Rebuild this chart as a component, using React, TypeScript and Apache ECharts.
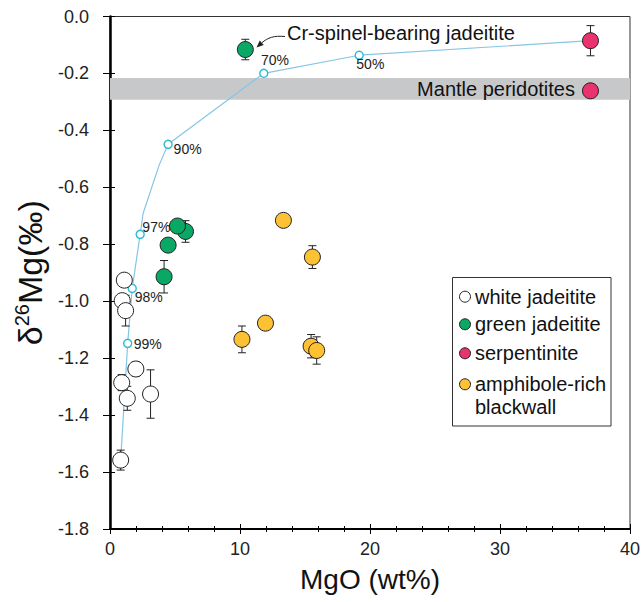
import React, { useEffect, useRef } from 'react';
import * as echarts from 'echarts';

// ---- data ----
const whiteX = [1.10, 0.94, 1.20, 1.99, 0.90, 1.33, 3.12, 0.82];
const whiteY = [-0.926, -0.998, -1.033, -1.238, -1.286, -1.341, -1.326, -1.558];
const whiteErr = [0, 0, 0.054, 0.025, 0.028, 0.042, 0.085, 0.035];

const greenX = [10.41, 5.81, 5.19, 4.47, 4.16];
const greenY = [-0.116, -0.755, -0.736, -0.803, -0.914];
const greenErr = [0.036, 0.038, 0, 0, 0.057];

const serpX = [36.96];
const serpY = [-0.085];
const serpErr = [0.053];

const mantleX = [36.96];
const mantleY = [-0.261];

const amphX = [13.34, 15.57, 10.15, 11.96, 15.47, 15.90];
const amphY = [-0.716, -0.845, -1.134, -1.077, -1.158, -1.173];
const amphErr = [0, 0.04, 0.047, 0, 0.041, 0.048];

const mixX = [0.82, 1.36, 1.71, 2.32, 2.55, 3.78, 4.47, 11.83, 19.17, 36.96];
const mixY = [-1.558, -1.148, -0.955, -0.765, -0.691, -0.522, -0.449, -0.1995, -0.136, -0.085];
const mixLabels = ['', '99%', '98%', '97%', '', '', '90%', '70%', '50%', ''];
const mixLabelPos: number[][] = [[0, 0], [10.8, 5.2], [7.2, 13.5], [6.9, -2.5], [0, 0], [0, 0], [10.2, 9.2], [1.9, -9.1], [1.8, 13.2], [0, 0]];

const mantleBand = [-0.216, -0.292];

const legendNames = ['white jadeitite', 'green jadeitite', 'serpentinite', 'amphibole-rich\nblackwall'];

const FONT = "'Liberation Sans', Arial, Helvetica, sans-serif";
const C_WHITE = '#ffffff';
const C_GREEN = '#0aa865';
const C_PINK = '#e9336f';
const C_YELLOW = '#fcc233';
const C_EDGE = '#231f20';

export default function App() {
  const ref = useRef<HTMLDivElement>(null);

  useEffect(() => {
    if (!ref.current) return;
    const chart = echarts.init(ref.current, undefined, { renderer: 'svg' });

    const errData: number[][] = [];
    const pushErr = (xs: number[], ys: number[], es: number[]) =>
      xs.forEach((x, i) => { if (es[i]) errData.push([x, ys[i], es[i]]); });
    pushErr(whiteX, whiteY, whiteErr);
    pushErr(greenX, greenY, greenErr);
    pushErr(serpX, serpY, serpErr);
    pushErr(amphX, amphY, amphErr);

    const pts = (xs: number[], ys: number[]) => xs.map((x, i) => [x, ys[i]]);

    const scatter = (name: string, xs: number[], ys: number[], color: string) => ({
      name,
      type: 'scatter',
      data: pts(xs, ys),
      symbol: 'circle',
      symbolSize: 16,
      z: 5,
      itemStyle: { color, borderColor: C_EDGE, borderWidth: 1, opacity: 1 },
      emphasis: { disabled: true },
    });

    const mixData = mixX.map((x, i) => {
      const lab = mixLabels[i];
      const item: any = { value: [x, mixY[i]] };
      if (lab) {
        item.symbol = 'circle';
        item.symbolSize = 8;
        item.label = {
          show: true,
          formatter: lab,
          position: mixLabelPos[i],
          align: 'left',
          verticalAlign: 'middle',
          fontSize: 14,
          color: '#222',
          fontFamily: FONT,
        };
      } else {
        item.symbol = 'none';
      }
      return item;
    });

    const axisCommonX = { type: 'value', min: 0, max: 40, interval: 10, position: 'bottom', gridIndex: 0 };
    const axisCommonY = { type: 'value', min: -1.8, max: 0, interval: 0.2, position: 'left', gridIndex: 0 };

    chart.setOption({
      animation: false,
      backgroundColor: '#ffffff',
      textStyle: { fontFamily: FONT },
      grid: { left: 110, right: 11.5, top: 16.5, bottom: 73, show: true, borderColor: '#333', borderWidth: 1, backgroundColor: 'transparent' },
      xAxis: [
        {
          ...axisCommonX,
          axisLine: { show: true, onZero: false, lineStyle: { color: '#000', width: 2 } },
          axisTick: { show: true, length: 5, lineStyle: { color: '#000', width: 1 } },
          minorTick: { show: true, splitNumber: 5, length: 3, lineStyle: { color: '#000', width: 1 } },
          splitLine: { show: false },
          axisLabel: { fontSize: 18, color: '#222', fontFamily: FONT, margin: 11 },
          name: 'MgO (wt%)',
          nameLocation: 'middle',
          nameGap: 36,
          nameTextStyle: { fontSize: 28, color: '#111', fontFamily: FONT },
        },
        {
          ...axisCommonX,
          axisLine: { show: false, onZero: false },
          axisTick: { show: true, inside: true, length: 5, lineStyle: { color: '#000', width: 1 } },
          minorTick: { show: true, splitNumber: 5, length: 3, lineStyle: { color: '#000', width: 1 } },
          splitLine: { show: false },
          axisLabel: { show: false },
        },
      ],
      yAxis: [
        {
          ...axisCommonY,
          axisLine: { show: true, onZero: false, lineStyle: { color: '#000', width: 2.5 } },
          axisTick: { show: true, length: 7, lineStyle: { color: '#000', width: 1 } },
          splitLine: { show: false },
          axisLabel: {
            fontSize: 18, color: '#222', fontFamily: FONT, margin: 21,
            formatter: (v: number) => v.toFixed(1),
          },
          name: '{m|δ}{s|26}{m|Mg(‰)}',
          nameLocation: 'middle',
          nameGap: 52,
          nameRotate: 90,
          nameTextStyle: {
            fontFamily: FONT,
            rich: {
              m: { fontSize: 34, color: '#111', fontFamily: FONT, lineHeight: 36 },
              s: { fontSize: 20, color: '#111', fontFamily: FONT, verticalAlign: 'top', lineHeight: 36 },
            },
          },
        },
        {
          ...axisCommonY,
          axisLine: { show: false, onZero: false },
          axisTick: { show: true, inside: true, length: 5, lineStyle: { color: '#000', width: 1 } },
          splitLine: { show: false },
          axisLabel: { show: false },
        },
      ],
      series: [
        {
          name: 'band',
          type: 'line',
          data: [],
          silent: true,
          z: 0,
          markArea: {
            silent: true,
            itemStyle: { color: '#c6c8ca' },
            label: {
              show: true,
              position: 'insideRight',
              offset: [-50, 0],
              formatter: 'Mantle peridotites',
              fontSize: 20,
              color: '#111',
              fontFamily: FONT,
            },
            data: [[{ yAxis: mantleBand[0] }, { yAxis: mantleBand[1] }]],
          },
        },
        {
          name: 'mixing',
          type: 'line',
          data: mixData,
          z: 2,
          lineStyle: { color: '#86c5e6', width: 1.2 },
          itemStyle: { color: '#ffffff', borderColor: '#2bbcd4', borderWidth: 1.4 },
          emphasis: { disabled: true },
        },
        {
          name: 'errors',
          type: 'custom',
          z: 3,
          data: errData,
          encode: { x: 0, y: 1 },
          renderItem: (params: any, api: any) => {
            const x = api.value(0), y = api.value(1), e = api.value(2);
            const t = api.coord([x, y + e]);
            const b = api.coord([x, y - e]);
            const w = 4;
            const st = { stroke: '#222', lineWidth: 1 };
            return {
              type: 'group',
              children: [
                { type: 'line', shape: { x1: t[0], y1: t[1], x2: b[0], y2: b[1] }, style: st },
                { type: 'line', shape: { x1: t[0] - w, y1: t[1], x2: t[0] + w, y2: t[1] }, style: st },
                { type: 'line', shape: { x1: b[0] - w, y1: b[1], x2: b[0] + w, y2: b[1] }, style: st },
              ],
            };
          },
        },
        scatter('white jadeitite', whiteX, whiteY, C_WHITE),
        scatter('green jadeitite', greenX, greenY, C_GREEN),
        scatter('serpentinite', serpX, serpY, C_PINK),
        scatter('mantle peridotite', mantleX, mantleY, C_PINK),
        scatter('amphibole-rich blackwall', amphX, amphY, C_YELLOW),
      ],
    });

    // Annotations and legend
    const tip = [256.5, 47.5];
    const from = [265, 40];
    const dx = tip[0] - from[0], dy = tip[1] - from[1];
    const len = Math.hypot(dx, dy);
    const ux = dx / len, uy = dy / len;
    const bx = tip[0] - ux * 7, by = tip[1] - uy * 7;
    const px = -uy * 3, py = ux * 3;

    const legendColors = [C_WHITE, C_GREEN, C_PINK, C_YELLOW];
    const legendYs = [296.7, 324.3, 353.3, 384.3];
    const legendChildren: any[] = [
      { type: 'rect', shape: { x: 452.5, y: 277.5, width: 158.5, height: 148.5 }, style: { fill: '#fff', stroke: '#333', lineWidth: 1 } },
    ];
    legendNames.forEach((n, i) => {
      legendChildren.push({ type: 'circle', shape: { cx: 465, cy: legendYs[i], r: 5.5 }, style: { fill: legendColors[i], stroke: C_EDGE, lineWidth: 1 } });
      legendChildren.push({
        type: 'text',
        x: 475,
        y: legendYs[i] - 11.5,
        style: { text: n, fontSize: 20, fontFamily: FONT, fill: '#111', lineHeight: 23, verticalAlign: 'top' },
      });
    });

    chart.setOption({
      graphic: [
        {
          type: 'text',
          x: 287,
          y: 33,
          style: { text: 'Cr-spinel-bearing jadeitite', fontSize: 20, fontFamily: FONT, fill: '#111', verticalAlign: 'middle' },
          z: 10,
        },
        {
          type: 'bezierCurve',
          shape: { x1: 285, y1: 36.5, cpx1: 274, cpy1: 35.5, cpx2: 268, cpy2: 37.5, x2: bx, y2: by },
          style: { stroke: '#222', lineWidth: 1, fill: 'none' },
          z: 10,
        },
        {
          type: 'polygon',
          shape: { points: [[tip[0], tip[1]], [bx + px, by + py], [bx - px, by - py]] },
          style: { fill: '#222' },
          z: 10,
        },
        { type: 'group', children: legendChildren, z: 10 },
      ],
    });

    return () => chart.dispose();
  }, []);

  return (
    <div
      ref={ref}
      style={{ position: 'absolute', left: 0, top: 0, width: 643, height: 602, background: '#fff' }}
    />
  );
}
